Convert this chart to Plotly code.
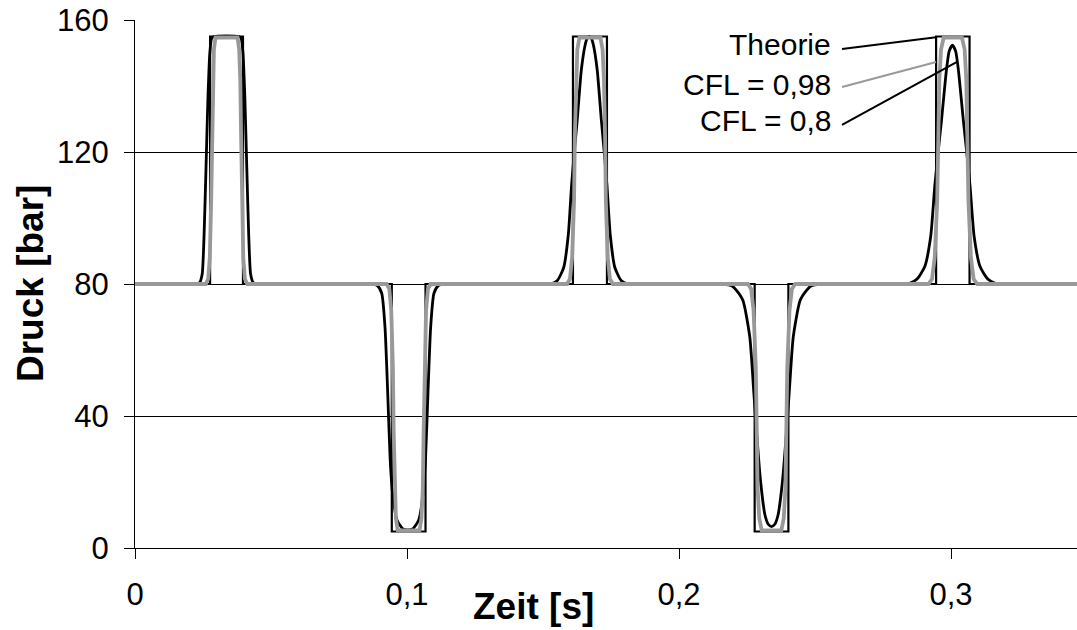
import plotly.graph_objects as go

# ---------------- data ----------------
x_tickvals = [0, 0.1, 0.2, 0.3]
x_ticktext = ["0", "0,1", "0,2", "0,3"]
y_tickvals = [0, 40, 80, 120, 160]
y_ticktext = ["0", "40", "80", "120", "160"]

series_names = ["Theorie", "CFL = 0,98", "CFL = 0,8"]

theory_t = [0, 0.0276, 0.0276, 0.0397, 0.0397, 0.0944, 0.0944, 0.1068, 0.1068,
            0.1610, 0.1610, 0.1735, 0.1735, 0.2278, 0.2278, 0.2402, 0.2402,
            0.2945, 0.2945, 0.3068, 0.3068, 0.35]
theory_p = [80, 80, 155, 155, 80, 80, 5, 5, 80, 80, 155, 155, 80, 80, 5, 5, 80,
            80, 155, 155, 80, 80]

cfl098_t = [0,
            0.0260, 0.0269, 0.0275, 0.0280, 0.0283, 0.0286, 0.0290, 0.0296,
            0.0377, 0.0383, 0.0387, 0.0390, 0.0393, 0.0398, 0.0404, 0.0413,
            0.0925, 0.0935, 0.0942, 0.0948, 0.0951, 0.0954, 0.0959, 0.0966,
            0.1046, 0.1053, 0.1058, 0.1061, 0.1064, 0.1070, 0.1077, 0.1087,
            0.1588, 0.1599, 0.1607, 0.1614, 0.1617, 0.1621, 0.1626, 0.1634,
            0.1711, 0.1719, 0.1724, 0.1728, 0.1731, 0.1738, 0.1746, 0.1757,
            0.2253, 0.2265, 0.2274, 0.2282, 0.2285, 0.2289, 0.2295, 0.2304,
            0.2376, 0.2385, 0.2391, 0.2395, 0.2398, 0.2406, 0.2415, 0.2427,
            0.2917, 0.2930, 0.2940, 0.2949, 0.2953, 0.2957, 0.2963, 0.2973,
            0.3040, 0.3050, 0.3056, 0.3060, 0.3064, 0.3073, 0.3083, 0.3096,
            0.35]
cfl098_p = [80,
            80, 81.5, 88, 105, 125, 142, 151, 154.7,
            154.7, 151, 142, 125, 105, 88, 81.5, 80,
            80, 78.5, 72, 55, 35, 18, 9, 5.3,
            5.3, 9, 18, 35, 55, 72, 78.5, 80,
            80, 81.5, 88, 105, 125, 142, 151, 154.7,
            154.7, 151, 142, 125, 105, 88, 81.5, 80,
            80, 78.5, 72, 55, 35, 18, 9, 5.3,
            5.3, 9, 18, 35, 55, 72, 78.5, 80,
            80, 81.5, 88, 105, 125, 142, 151, 154.7,
            154.7, 151, 142, 125, 105, 88, 81.5, 80,
            80]

cfl08_t = [0,
           0.0225, 0.0238, 0.0247, 0.0254, 0.0261, 0.0268, 0.0275, 0.0282, 0.0290,
           0.0382, 0.0390, 0.0397, 0.0404, 0.0411, 0.0418, 0.0425, 0.0434, 0.0447,
           0.0873, 0.0891, 0.0907, 0.0919, 0.0929, 0.0938, 0.0947, 0.0963, 0.0985,
           0.1003,
           0.1021, 0.1043, 0.1059, 0.1068, 0.1077, 0.1087, 0.1099, 0.1115, 0.1133,
           0.1525, 0.1552, 0.1576, 0.1593, 0.1605, 0.1615, 0.1626, 0.1641, 0.1655, 0.1662,
           0.1670,
           0.1678, 0.1685, 0.1699, 0.1714, 0.1725, 0.1735, 0.1747, 0.1764, 0.1788, 0.1815,
           0.2160, 0.2195, 0.2212, 0.2235, 0.2260, 0.2275, 0.2287, 0.2300, 0.2316, 0.2328,
           0.2340,
           0.2352, 0.2364, 0.2380, 0.2393, 0.2405, 0.2420, 0.2445, 0.2468, 0.2485, 0.2520,
           0.2825, 0.2850, 0.2875, 0.2903, 0.2925, 0.2940, 0.2952, 0.2965, 0.2983, 0.2993,
           0.3005,
           0.3017, 0.3027, 0.3045, 0.3058, 0.3070, 0.3085, 0.3107, 0.3135, 0.3160, 0.3185,
           0.35]
cfl08_p = [80,
           80, 80.5, 83, 95, 115, 136, 150, 154.5, 155,
           155, 154.5, 150, 136, 115, 95, 83, 80.5, 80,
           80, 79.5, 77.2, 67, 47, 27, 16.5, 8.5, 5.8,
           5.5,
           5.8, 8.5, 16.5, 27, 47, 67, 77.2, 79.5, 80,
           80, 81, 85, 95, 110, 120, 130, 145, 152.5, 154.4,
           155,
           154.4, 152.5, 145, 130, 120, 110, 95, 85, 81, 80,
           80, 79.4, 78, 75, 64, 47, 33, 20, 10, 7.2,
           6.5,
           7.2, 10, 20, 33, 47, 64, 75, 78, 79.4, 80,
           80, 80.3, 81.5, 85.2, 94.3, 109.5, 119.6, 129.7, 144.8, 150.5,
           152.4,
           150.5, 144.8, 129.7, 119.6, 109.5, 94.3, 85.2, 81.5, 80.3, 80,
           80]

# label positions (data coords) and leader lines
label_x = 0.2566
label_y = [152.7, 140.6, 129.4]
leader_start = [(0.2599, 151.2), (0.2599, 139.7), (0.2599, 128.2)]
leader_end = [(0.2945, 154.8), (0.2945, 147.3), (0.3022, 147.3)]

# ---------------- styles ----------------
BLACK = "#000000"
GRAY = "#999999"
FONT = "Liberation Sans, Arial, sans-serif"
FS = 30
TICK_FS = 31
TITLE_FS = 37
label_colors = [BLACK, GRAY, BLACK]

fig = go.Figure()
fig.add_trace(go.Scatter(x=theory_t, y=theory_p, mode="lines", name=series_names[0],
                         line=dict(color=BLACK, width=2.2)))
fig.add_trace(go.Scatter(x=cfl08_t, y=cfl08_p, mode="lines", name=series_names[2],
                         line=dict(color=BLACK, width=2.8, shape="spline", smoothing=0.6)))
fig.add_trace(go.Scatter(x=cfl098_t, y=cfl098_p, mode="lines", name=series_names[1],
                         line=dict(color=GRAY, width=3.8)))

shapes = []
for (s, e, c) in zip(leader_start, leader_end, label_colors):
    shapes.append(dict(type="line", xref="x", yref="y", x0=s[0], y0=s[1], x1=e[0], y1=e[1],
                       line=dict(color=c, width=2), layer="above"))

annotations = []
for name, ly in zip(series_names, label_y):
    annotations.append(dict(x=label_x, y=ly, xref="x", yref="y", text=name, showarrow=False,
                            xanchor="right", yanchor="middle",
                            font=dict(family=FONT, size=FS, color=BLACK)))
annotations.append(dict(x=0, y=0.5, xref="paper", yref="paper", text="<b>Druck [bar]</b>",
                        showarrow=False, textangle=-90, xanchor="center", yanchor="middle",
                        xshift=-105, font=dict(family=FONT, size=TITLE_FS, color=BLACK)))
annotations.append(dict(x=0.4235, y=0, xref="paper", yref="paper", text="<b>Zeit [s]</b>",
                        showarrow=False, xanchor="center", yanchor="middle",
                        yshift=-58, font=dict(family=FONT, size=TITLE_FS, color=BLACK)))

fig.update_layout(
    width=1077, height=630,
    margin=dict(l=135, r=0, t=20, b=82),
    paper_bgcolor="white", plot_bgcolor="white",
    showlegend=False,
    font=dict(family=FONT, size=FS, color=BLACK),
    shapes=shapes, annotations=annotations,
    xaxis=dict(range=[0, 0.3463], tickvals=x_tickvals, ticktext=x_ticktext,
               showgrid=False, zeroline=False, showline=True, linecolor=BLACK, linewidth=1,
               ticks="outside", ticklen=10, tickwidth=1, tickcolor=BLACK,
               ticklabelstandoff=9,
               tickfont=dict(family=FONT, size=TICK_FS, color=BLACK)),
    yaxis=dict(range=[0, 160], tickvals=y_tickvals, ticktext=y_ticktext,
               showgrid=True, gridcolor=BLACK, gridwidth=1,
               zeroline=False, showline=True, linecolor=BLACK, linewidth=1,
               ticks="outside", ticklen=10, tickwidth=1, tickcolor=BLACK,
               ticklabelstandoff=9,
               tickfont=dict(family=FONT, size=TICK_FS, color=BLACK)),
)

fig.write_html("out.html")
